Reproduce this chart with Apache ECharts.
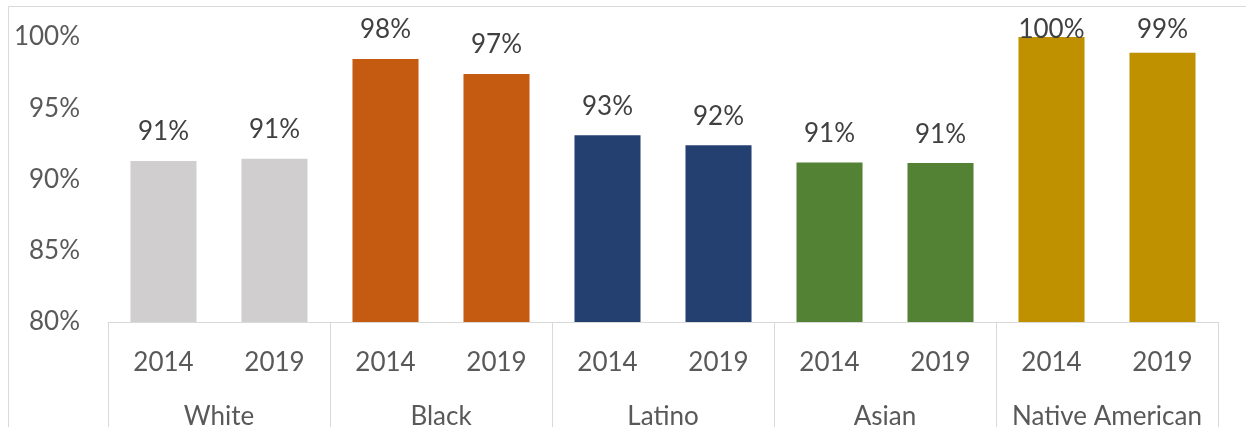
<!DOCTYPE html>
<html>
<head>
<meta charset="utf-8">
<script src="https://cdn.jsdelivr.net/npm/echarts@6/dist/echarts.min.js"></script>
<style>
html,body{margin:0;padding:0;background:#fff;}
#chart{width:1246px;height:427px;}
</style>
</head>
<body>
<div id="chart"></div>
<script>
const groups = ["White", "Black", "Latino", "Asian", "Native American"];
const years = ["2014", "2019"];
const values = [91.3, 91.45, 98.45, 97.4, 93.1, 92.4, 91.2, 91.15, 100, 98.9];
const groupColors = ["#d0cece", "#c55a11", "#244070", "#548235", "#bf9000"];
const yTicks = [80, 85, 90, 95, 100];

const yearCats = [];
groups.forEach(() => years.forEach(y => yearCats.push(y)));

const FONT = "Lato";
const chart = echarts.init(document.getElementById('chart'), null, {renderer: 'canvas'});
chart.setOption({
  animation: false,
  backgroundColor: '#ffffff',
  textStyle: {fontFamily: FONT},
  graphic: [{
    type: 'rect', silent: true, z: -10,
    shape: {x: 8.5, y: 6.5, width: 1300, height: 500},
    style: {fill: 'none', stroke: '#d9d9d9', lineWidth: 1}
  }],
  grid: {left: 108, right: 28, top: 37, bottom: 105, containLabel: false, outerBoundsMode: 'none'},
  xAxis: [{
    type: 'category',
    data: yearCats,
    position: 'bottom',
    axisLine: {show: true, lineStyle: {color: '#d9d9d9', width: 1}},
    axisTick: {show: false},
    axisLabel: {color: '#595959', fontSize: 26, fontFamily: FONT, margin: 28, interval: 0}
  }, {
    type: 'category',
    data: groups,
    position: 'bottom',
    axisLine: {show: false},
    axisTick: {show: true, length: 120, lineStyle: {color: '#d9d9d9', width: 1}},
    axisLabel: {color: '#595959', fontSize: 26, fontFamily: FONT, margin: 82, interval: 0}
  }],
  yAxis: {
    type: 'value',
    min: yTicks[0], max: yTicks[yTicks.length - 1], interval: 5,
    axisLine: {show: false},
    axisTick: {show: false},
    splitLine: {show: false},
    axisLabel: {color: '#595959', fontSize: 26, fontFamily: FONT, margin: 28, formatter: '{value}%'}
  },
  series: [{
    type: 'bar',
    xAxisIndex: 0,
    barCategoryGap: '40.5%',
    data: values.map((v, i) => ({
      value: v,
      itemStyle: {color: groupColors[Math.floor(i / years.length)]}
    })),
    label: {
      show: true, position: 'top', distance: 14,
      color: '#404040', fontSize: 26, fontFamily: FONT,
      formatter: p => Math.round(p.value) + '%'
    },
    labelLayout: function (p) {
      const cx = p.rect.x + p.rect.width / 2;
      const cy = Math.max(p.rect.y - 29, 30);
      return {x: cx, y: cy, align: 'center', verticalAlign: 'middle'};
    }
  }]
});
</script>
</body>
</html>
